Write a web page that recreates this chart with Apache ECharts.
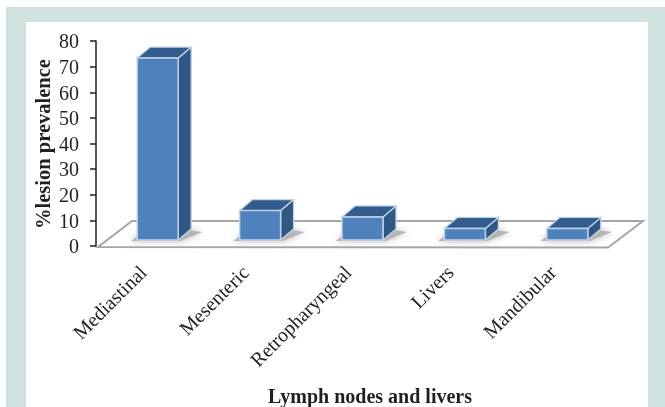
<!DOCTYPE html>
<html><head><meta charset="utf-8">
<style>html,body{margin:0;padding:0;background:#fff}#c{width:665px;height:407px}</style>
<script src="https://cdn.jsdelivr.net/npm/echarts@6/dist/echarts.min.js"></script>
</head><body><div id="c"></div>
<script>
var categories = ['Mediastinal','Mesenteric','Retropharyngeal','Livers','Mandibular'];
var prevalence = [71, 11.5, 9, 4.5, 4.5];
var yTicks = {min:0,max:80,interval:10};
var xTitle = 'Lymph nodes and livers';
var yTitle = '%lesion prevalence';

var FONT = '"Liberation Serif","Times New Roman",serif';
var chart = echarts.init(document.getElementById('c'));

function poly(pts, style, z){
  return {type:'polygon', shape:{points:pts}, style:style, z2:z||0};
}
var DX=13, DY=11, SHIFT=13.5, LIFT=6, W=41, OFF=3;

chart.setOption({
  animation:false,
  backgroundColor:'#fff',
  graphic:[
    {type:'rect',silent:true,z:-10,shape:{x:6,y:7,width:659,height:400},style:{fill:'#cfe2e0'}},
    {type:'rect',silent:true,z:-9,shape:{x:26,y:22,width:622,height:385},style:{fill:'#fff'}},
    {type:'text',silent:true,z:5,style:{x:370,y:398,text:xTitle,font:'bold 20px '+FONT,fill:'#231f20',textAlign:'center',textVerticalAlign:'middle'}},
    {type:'text',silent:true,z:5,rotation:Math.PI/2,x:45,y:144,style:{x:0,y:0,text:yTitle,font:'bold 20.5px '+FONT,fill:'#231f20',textAlign:'center',textVerticalAlign:'middle'}}
  ],
  grid:{left:93,top:41,width:512,height:205,containLabel:false},
  xAxis:{type:'category',data:categories,
    axisLine:{show:false},axisTick:{show:false},
    axisLabel:{rotate:45,margin:24,interval:0,fontFamily:FONT,fontSize:20,color:'#231f20'}},
  yAxis:{type:'value',min:yTicks.min,max:yTicks.max,interval:yTicks.interval,offset:-OFF,
    splitLine:{show:false},
    axisLine:{show:true,lineStyle:{color:'#231f20',width:1.5}},
    axisTick:{show:true,length:6,lineStyle:{color:'#231f20',width:1.5}},
    axisLabel:{margin:17,verticalAlign:'top',lineHeight:4,fontFamily:FONT,fontSize:20,color:'#231f20'}},
  series:[
    {type:'custom',coordinateSystem:'cartesian2d',z:1,silent:true,data:[[0,0]],
     renderItem:function(p,api){
       var g=p.coordSys, b=g.y+g.height, l=g.x+OFF, r=g.x+g.width+OFF;
       return poly([[l+2,b+1],[l+36,b-25],[l+547,b-25],[r,b+1.5]],{fill:'#fff',stroke:'#a6a6a6',lineWidth:2});
     }},
    {type:'custom',coordinateSystem:'cartesian2d',z:2,silent:true,
     data:prevalence.map(function(v,i){return [i,v];}),
     encode:{x:0,y:1},
     renderItem:function(p,api){
       var c=api.coord([api.value(0),api.value(1)]);
       var z=api.coord([api.value(0),0]);
       var x0=c[0]+SHIFT-W/2, x1=x0+W, top=c[1]-LIFT, bot=z[1]-LIFT;
       var edge='#c3d3e6';
       return {type:'group',children:[
         poly([[x0-6,bot+1],[x1+2,bot+1],[x1+24,bot-8],[x1+10,bot-10],[x0,bot-4]],
              {fill:'#b5b5b5',shadowBlur:7,shadowColor:'#b5b5b5'}),
         poly([[x1,top],[x1+DX,top-DY],[x1+DX,bot-DY],[x1,bot]],{fill:'#315885',stroke:edge,lineWidth:1.3}),
         poly([[x0,top],[x0+DX,top-DY],[x1+DX,top-DY],[x1,top]],{fill:'#335c8e',stroke:edge,lineWidth:1.3}),
         {type:'rect',shape:{x:x0,y:top,width:W,height:bot-top},style:{fill:'#4f81bd',stroke:edge,lineWidth:1.5}}
       ]};
     }}
  ]
});
</script></body></html>
